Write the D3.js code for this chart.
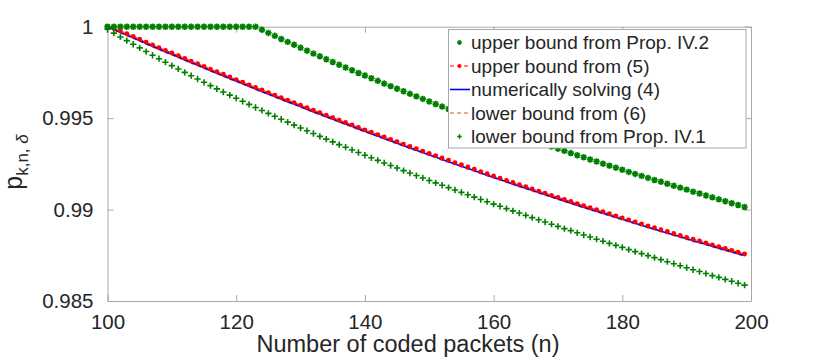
<!DOCTYPE html>
<html>
<head>
<meta charset="utf-8">
<script src="https://cdn.jsdelivr.net/npm/d3@7"></script>
<style>
  body { margin: 0; background: #fff; }
  svg { display: block; font-family: "Liberation Sans", Arial, Helvetica, sans-serif; }
</style>
</head>
<body>
<div id="graph"></div>
<script>
const width = 830;
const height = 361;

// x values: number of coded packets n = 100 ... 199
const nFirst = 100;
const nCount = 100;
const xTicks = [100, 120, 140, 160, 180, 200];
const yTicks = [0.985, 0.99, 0.995, 1];
const yTickLabels = ["0.985", "0.99", "0.995", "1"];

const upperPropIV2 = [
  1, 1, 1, 1, 1, 1, 1, 1, 1, 1,
  1, 1, 1, 1, 1, 1, 1, 1, 1, 1,
  1, 1, 1, 1,
  0.99983, 0.99966, 0.99950, 0.99933, 0.99917, 0.99901, 0.99885, 0.99869, 0.99853, 0.99838,
  0.99822, 0.99807, 0.99792, 0.99777, 0.99762, 0.99747, 0.99733, 0.99718, 0.99704, 0.99689,
  0.99675, 0.99661, 0.99647, 0.99633, 0.99619, 0.99605, 0.99591, 0.99577, 0.99563, 0.99550,
  0.99536, 0.99523, 0.99510, 0.99496, 0.99483, 0.99470, 0.99457, 0.99444, 0.99432, 0.99419,
  0.99406, 0.99394, 0.99381, 0.99369, 0.99357, 0.99345, 0.99333, 0.99321, 0.99309, 0.99297,
  0.99286, 0.99274, 0.99263, 0.99251, 0.99240, 0.99229, 0.99218, 0.99206, 0.99195, 0.99184,
  0.99173, 0.99162, 0.99152, 0.99141, 0.99130, 0.99120, 0.99109, 0.99098, 0.99088, 0.99077,
  0.99067, 0.99056, 0.99046, 0.99035, 0.99025, 0.99014
];

const upperEq5 = [
  1.00000, 0.99989, 0.99977, 0.99962, 0.99947, 0.99932, 0.99916, 0.99901, 0.99886, 0.99871,
  0.99857, 0.99842, 0.99827, 0.99812, 0.99798, 0.99783, 0.99768, 0.99754, 0.99740, 0.99725,
  0.99711, 0.99697, 0.99682, 0.99668, 0.99654, 0.99640, 0.99626, 0.99612, 0.99598, 0.99585,
  0.99571, 0.99557, 0.99543, 0.99530, 0.99516, 0.99503, 0.99489, 0.99476, 0.99463, 0.99449,
  0.99436, 0.99423, 0.99410, 0.99397, 0.99384, 0.99371, 0.99358, 0.99345, 0.99333, 0.99320,
  0.99307, 0.99295, 0.99282, 0.99270, 0.99257, 0.99245, 0.99233, 0.99221, 0.99208, 0.99196,
  0.99184, 0.99172, 0.99160, 0.99148, 0.99136, 0.99125, 0.99113, 0.99101, 0.99090, 0.99078,
  0.99067, 0.99055, 0.99044, 0.99032, 0.99021, 0.99010, 0.98999, 0.98988, 0.98977, 0.98966,
  0.98955, 0.98944, 0.98933, 0.98922, 0.98911, 0.98901, 0.98890, 0.98880, 0.98869, 0.98859,
  0.98848, 0.98838, 0.98828, 0.98818, 0.98807, 0.98797, 0.98787, 0.98777, 0.98767, 0.98757
];

const numericEq4 = [
  1.00000, 0.99985, 0.99969, 0.99954, 0.99939, 0.99924, 0.99908, 0.99893, 0.99878, 0.99863,
  0.99849, 0.99834, 0.99819, 0.99804, 0.99790, 0.99775, 0.99760, 0.99746, 0.99732, 0.99717,
  0.99703, 0.99689, 0.99674, 0.99660, 0.99646, 0.99632, 0.99618, 0.99604, 0.99590, 0.99577,
  0.99563, 0.99549, 0.99535, 0.99522, 0.99508, 0.99495, 0.99481, 0.99468, 0.99455, 0.99441,
  0.99428, 0.99415, 0.99402, 0.99389, 0.99376, 0.99363, 0.99350, 0.99337, 0.99325, 0.99312,
  0.99299, 0.99287, 0.99274, 0.99262, 0.99249, 0.99237, 0.99225, 0.99213, 0.99200, 0.99188,
  0.99176, 0.99164, 0.99152, 0.99140, 0.99128, 0.99117, 0.99105, 0.99093, 0.99082, 0.99070,
  0.99059, 0.99047, 0.99036, 0.99024, 0.99013, 0.99002, 0.98991, 0.98980, 0.98969, 0.98958,
  0.98947, 0.98936, 0.98925, 0.98914, 0.98903, 0.98893, 0.98882, 0.98872, 0.98861, 0.98851,
  0.98840, 0.98830, 0.98820, 0.98810, 0.98799, 0.98789, 0.98779, 0.98769, 0.98759, 0.98749
];

const lowerEq6 = [
  1.00000, 0.99983, 0.99967, 0.99952, 0.99937, 0.99922, 0.99906, 0.99891, 0.99876, 0.99861,
  0.99847, 0.99832, 0.99817, 0.99802, 0.99788, 0.99773, 0.99758, 0.99744, 0.99730, 0.99715,
  0.99701, 0.99687, 0.99672, 0.99658, 0.99644, 0.99630, 0.99616, 0.99602, 0.99588, 0.99575,
  0.99561, 0.99547, 0.99533, 0.99520, 0.99506, 0.99493, 0.99479, 0.99466, 0.99453, 0.99439,
  0.99426, 0.99413, 0.99400, 0.99387, 0.99374, 0.99361, 0.99348, 0.99335, 0.99323, 0.99310,
  0.99297, 0.99285, 0.99272, 0.99260, 0.99247, 0.99235, 0.99223, 0.99211, 0.99198, 0.99186,
  0.99174, 0.99162, 0.99150, 0.99138, 0.99126, 0.99115, 0.99103, 0.99091, 0.99080, 0.99068,
  0.99057, 0.99045, 0.99034, 0.99022, 0.99011, 0.99000, 0.98989, 0.98978, 0.98967, 0.98956,
  0.98945, 0.98934, 0.98923, 0.98912, 0.98901, 0.98891, 0.98880, 0.98870, 0.98859, 0.98849,
  0.98838, 0.98828, 0.98818, 0.98808, 0.98797, 0.98787, 0.98777, 0.98767, 0.98757, 0.98747
];

const lowerPropIV1 = [
  0.99986, 0.99965, 0.99944, 0.99924, 0.99904, 0.99884, 0.99864, 0.99844, 0.99825, 0.99806,
  0.99787, 0.99769, 0.99750, 0.99732, 0.99714, 0.99696, 0.99678, 0.99660, 0.99643, 0.99626,
  0.99609, 0.99592, 0.99575, 0.99558, 0.99542, 0.99526, 0.99510, 0.99494, 0.99478, 0.99462,
  0.99446, 0.99431, 0.99416, 0.99400, 0.99385, 0.99370, 0.99355, 0.99341, 0.99326, 0.99312,
  0.99297, 0.99283, 0.99269, 0.99255, 0.99241, 0.99227, 0.99213, 0.99200, 0.99186, 0.99173,
  0.99159, 0.99146, 0.99133, 0.99120, 0.99107, 0.99094, 0.99081, 0.99068, 0.99055, 0.99043,
  0.99030, 0.99018, 0.99005, 0.98993, 0.98981, 0.98968, 0.98956, 0.98944, 0.98932, 0.98920,
  0.98908, 0.98896, 0.98885, 0.98873, 0.98861, 0.98850, 0.98838, 0.98827, 0.98815, 0.98804,
  0.98793, 0.98781, 0.98770, 0.98759, 0.98748, 0.98737, 0.98726, 0.98715, 0.98704, 0.98693,
  0.98682, 0.98671, 0.98661, 0.98650, 0.98639, 0.98629, 0.98618, 0.98608, 0.98597, 0.98587
];

const legendLabels = [
  "upper bound from Prop. IV.2",
  "upper bound from (5)",
  "numerically solving (4)",
  "lower bound from (6)",
  "lower bound from Prop. IV.1"
];

const nValues = d3.range(nFirst, nFirst + nCount);
const textColor = "#262626";
const axisColor = "#a8a8a8";
const green = "#008000";
const brown = "#c0602a";

const svg = d3
  .select("#graph")
  .append("svg")
  .attr("width", width)
  .attr("height", height);

svg.append("rect").attr("width", width).attr("height", height).attr("fill", "#fff");

// Scales
const xScale = d3.scaleLinear().domain([100, 200]).range([107.5, 751]);
const yScale = d3.scaleLinear().domain([0.985, 1]).range([301, 26.7]);

// Marker shapes (MATLAB style '*' and '+')
const starSymbol = {
  draw(ctx, size) {
    const r = Math.sqrt(size) / 2;
    const q = r * 0.72;
    ctx.moveTo(-r, 0); ctx.lineTo(r, 0);
    ctx.moveTo(0, -r); ctx.lineTo(0, r);
    ctx.moveTo(-q, -q); ctx.lineTo(q, q);
    ctx.moveTo(-q, q); ctx.lineTo(q, -q);
  }
};
const plusSymbol = {
  draw(ctx, size) {
    const r = Math.sqrt(size) / 2;
    ctx.moveTo(-r, 0); ctx.lineTo(r, 0);
    ctx.moveTo(0, -r); ctx.lineTo(0, r);
  }
};

// Axes (box with inward ticks on all sides)
const axes = svg.append("g").attr("class", "axes");
const styleAxis = (g) => {
  g.select(".domain").attr("stroke", axisColor).attr("stroke-width", 1);
  g.selectAll(".tick line").attr("stroke", axisColor);
  g.selectAll("text")
    .attr("fill", textColor)
    .style("font-size", "20.5px");
};

axes.append("g")
  .attr("transform", "translate(0,301)")
  .call(d3.axisBottom(xScale).tickValues(xTicks).tickSizeInner(-6).tickSizeOuter(0))
  .call(styleAxis)
  .call((g) => g.selectAll("text").attr("y", 27.5).attr("dy", 0));

axes.append("g")
  .attr("transform", "translate(0,26.7)")
  .call(d3.axisTop(xScale).tickValues(xTicks).tickSizeInner(-6).tickSizeOuter(0).tickFormat(""))
  .call(styleAxis);

axes.append("g")
  .attr("transform", "translate(107.5,0)")
  .call(
    d3.axisLeft(yScale)
      .tickValues(yTicks)
      .tickSizeInner(-6)
      .tickSizeOuter(0)
      .tickFormat((d, i) => yTickLabels[i])
  )
  .call(styleAxis)
  .call((g) => g.selectAll("text").attr("x", -14));

axes.append("g")
  .attr("transform", "translate(751,0)")
  .call(d3.axisRight(yScale).tickValues(yTicks).tickSizeInner(-6).tickSizeOuter(0).tickFormat(""))
  .call(styleAxis);

// Axis titles
svg.append("text")
  .attr("x", 408)
  .attr("y", 351.5)
  .attr("text-anchor", "middle")
  .attr("fill", textColor)
  .style("font-size", "23.5px")
  .text("Number of coded packets (n)");

const yTitle = svg.append("text")
  .attr("transform", "translate(21.5,162) rotate(-90)")
  .attr("text-anchor", "middle")
  .attr("fill", textColor);
yTitle.append("tspan").style("font-size", "25px").text("p");
yTitle.append("tspan").attr("dy", 6).style("font-size", "17px").text("k,n, ");
yTitle.append("tspan").style("font-size", "17px").style("font-style", "italic").text("δ");

// Series
const plot = svg.append("g");
const lineFor = (values) =>
  d3.line().x((d, i) => xScale(nValues[i])).y((d) => yScale(d))(values);

plot.append("path")
  .attr("d", lineFor(lowerEq6))
  .attr("fill", "none")
  .attr("stroke", brown)
  .attr("stroke-width", 1.8)
  .attr("stroke-dasharray", "4,3");

plot.append("path")
  .attr("d", lineFor(numericEq4))
  .attr("fill", "none")
  .attr("stroke", "#0000ff")
  .attr("stroke-width", 1.6);

plot.append("path")
  .attr("d", lineFor(upperEq5))
  .attr("fill", "none")
  .attr("stroke", "#ff0000")
  .attr("stroke-width", 1)
  .attr("stroke-dasharray", "4,3");

plot.append("g")
  .selectAll("circle")
  .data(upperEq5)
  .join("circle")
  .attr("cx", (d, i) => xScale(nValues[i]))
  .attr("cy", (d) => yScale(d))
  .attr("r", 2.4)
  .attr("fill", "#ff0000");

plot.append("g")
  .selectAll("path")
  .data(upperPropIV2)
  .join("path")
  .attr("transform", (d, i) => `translate(${xScale(nValues[i])},${yScale(d)})`)
  .attr("d", d3.symbol(starSymbol, 42))
  .attr("fill", "none")
  .attr("stroke", green)
  .attr("stroke-width", 1.7);

plot.append("g")
  .selectAll("path")
  .data(lowerPropIV1)
  .join("path")
  .attr("transform", (d, i) => `translate(${xScale(nValues[i])},${yScale(d)})`)
  .attr("d", d3.symbol(plusSymbol, 40))
  .attr("fill", "none")
  .attr("stroke", green)
  .attr("stroke-width", 1.6);

// Legend
const legend = svg.append("g").attr("id", "legend");
legend.append("rect")
  .attr("x", 448.5)
  .attr("y", 29.5)
  .attr("width", 297.5)
  .attr("height", 118.5)
  .attr("fill", "#fff")
  .attr("stroke", axisColor)
  .attr("stroke-width", 1);

const rowY = (i) => 42.5 + i * 23.5;
const sx0 = 450, sx1 = 470, sxm = 459.5;

legend.selectAll("text")
  .data(legendLabels)
  .join("text")
  .attr("x", 471)
  .attr("y", (d, i) => rowY(i))
  .attr("dy", "0.35em")
  .attr("fill", textColor)
  .style("font-size", "19px")
  .text((d) => d);

legend.append("path")
  .attr("transform", `translate(${sxm},${rowY(0)})`)
  .attr("d", d3.symbol(starSymbol, 20))
  .attr("fill", "none")
  .attr("stroke", green)
  .attr("stroke-width", 1.5);

legend.append("line")
  .attr("x1", sx0).attr("x2", sx1).attr("y1", rowY(1)).attr("y2", rowY(1))
  .attr("stroke", "#ff0000").attr("stroke-width", 1).attr("stroke-dasharray", "4,3");
legend.append("circle")
  .attr("cx", sxm).attr("cy", rowY(1)).attr("r", 2).attr("fill", "#ff0000");

legend.append("line")
  .attr("x1", sx0).attr("x2", sx1).attr("y1", rowY(2)).attr("y2", rowY(2))
  .attr("stroke", "#0000ff").attr("stroke-width", 1.6);

legend.append("line")
  .attr("x1", sx0).attr("x2", sx1).attr("y1", rowY(3)).attr("y2", rowY(3))
  .attr("stroke", brown).attr("stroke-width", 1.2).attr("stroke-dasharray", "4,3");

legend.append("path")
  .attr("transform", `translate(${sxm},${rowY(4)})`)
  .attr("d", d3.symbol(plusSymbol, 20))
  .attr("fill", "none")
  .attr("stroke", green)
  .attr("stroke-width", 1.5);
</script>
</body>
</html>
